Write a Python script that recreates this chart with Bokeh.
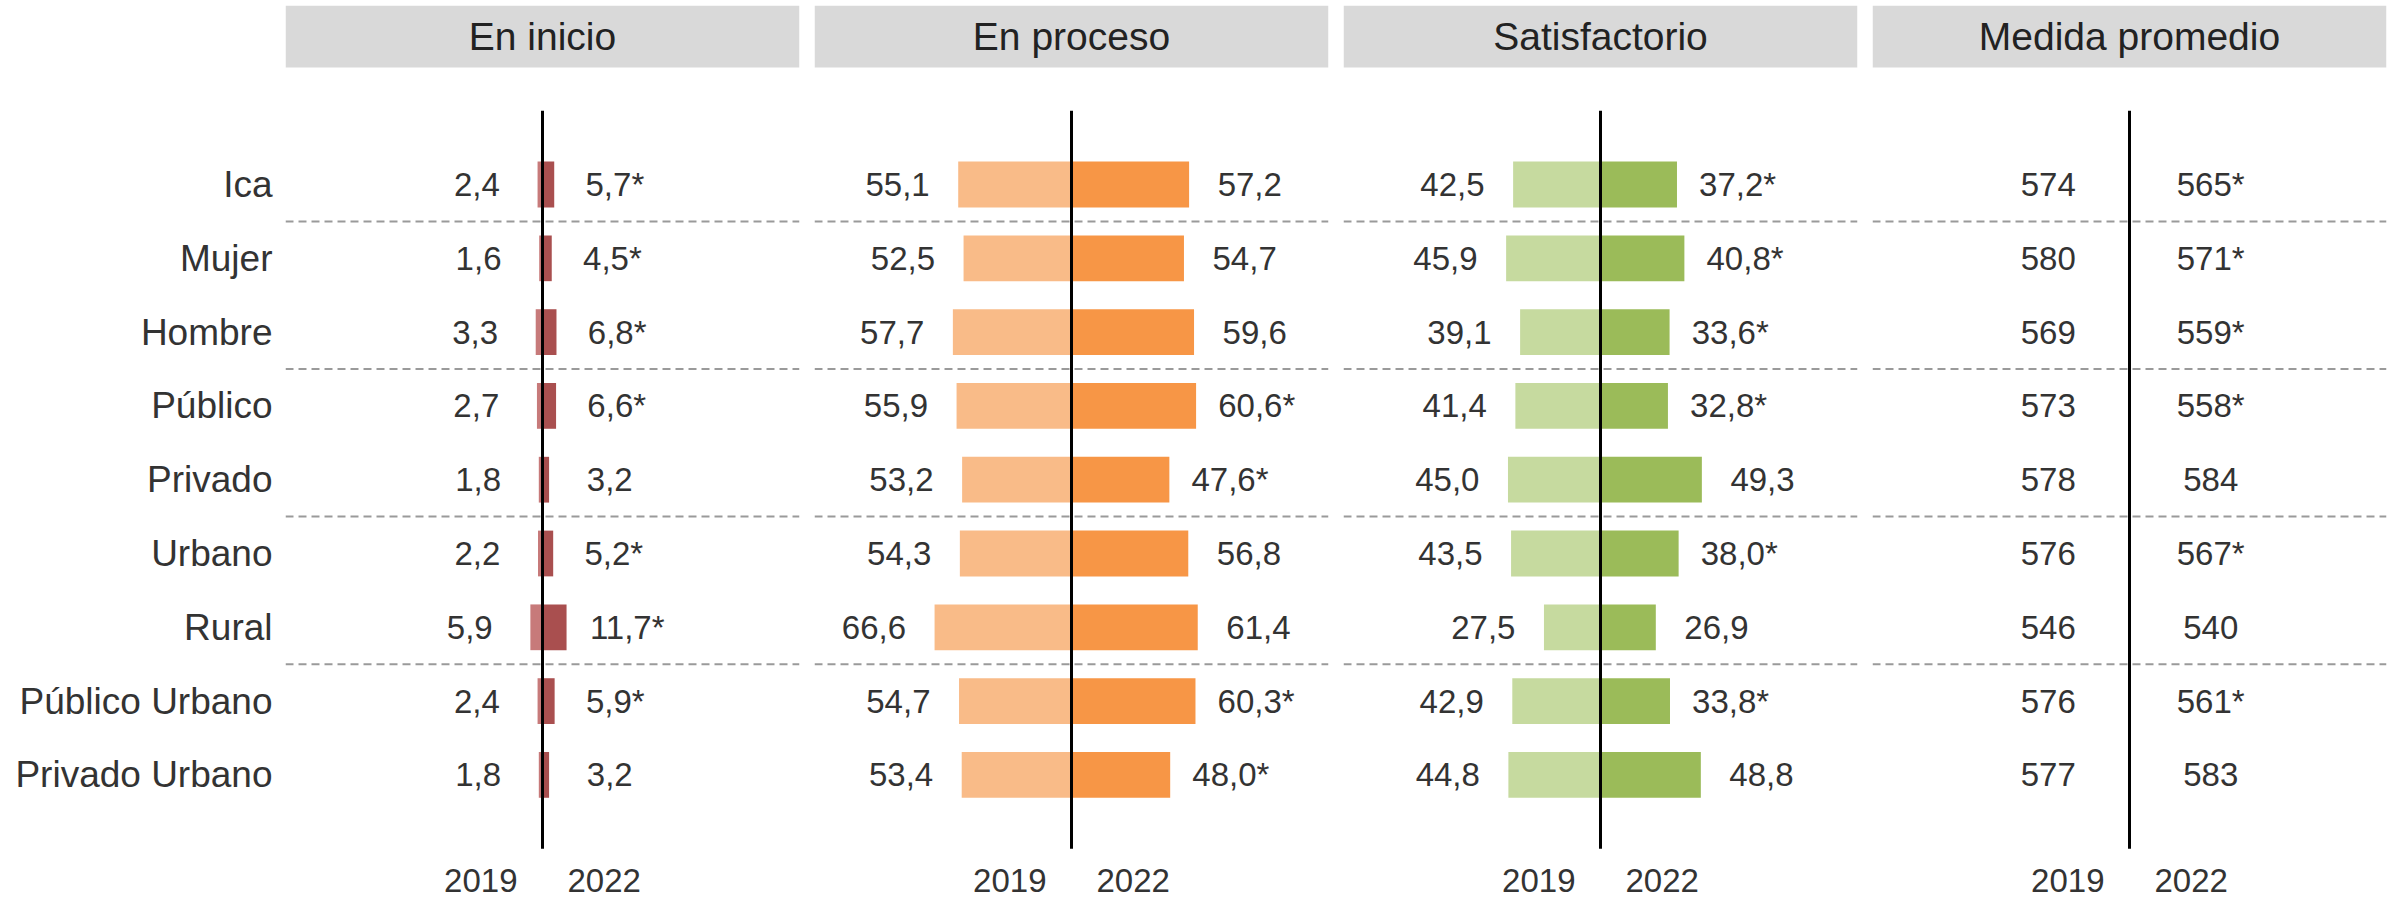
from bokeh.plotting import figure
from bokeh.models import Range1d, FixedTicker, ColumnDataSource
from bokeh.layouts import row
from bokeh.core.properties import value
from bokeh.embed import file_html
from bokeh.resources import INLINE

# ---------------- data ----------------
categories = ["Ica", "Mujer", "Hombre", "Público", "Privado", "Urbano", "Rural",
              "Público Urbano", "Privado Urbano"]
groups = ["Total", "Sexo", "Sexo", "Gestión", "Gestión", "Área", "Área",
          "Gestión-Área", "Gestión-Área"]
years = ["2019", "2022"]

panel_titles = ["En inicio", "En proceso", "Satisfactorio", "Medida promedio"]

inicio_2019 = [2.4, 1.6, 3.3, 2.7, 1.8, 2.2, 5.9, 2.4, 1.8]
inicio_2022 = [5.7, 4.5, 6.8, 6.6, 3.2, 5.2, 11.7, 5.9, 3.2]
inicio_sig = [1, 1, 1, 1, 0, 1, 1, 1, 0]

proceso_2019 = [55.1, 52.5, 57.7, 55.9, 53.2, 54.3, 66.6, 54.7, 53.4]
proceso_2022 = [57.2, 54.7, 59.6, 60.6, 47.6, 56.8, 61.4, 60.3, 48.0]
proceso_sig = [0, 0, 0, 1, 1, 0, 0, 1, 1]

satisf_2019 = [42.5, 45.9, 39.1, 41.4, 45.0, 43.5, 27.5, 42.9, 44.8]
satisf_2022 = [37.2, 40.8, 33.6, 32.8, 49.3, 38.0, 26.9, 33.8, 48.8]
satisf_sig = [1, 1, 1, 1, 0, 1, 0, 1, 0]

medida_2019 = [574, 580, 569, 573, 578, 576, 546, 576, 577]
medida_2022 = [565, 571, 559, 558, 584, 567, 540, 561, 583]
medida_sig = [1, 1, 1, 1, 0, 1, 0, 1, 0]

# ---------------- styling / layout ----------------
FONT = "Liberation Sans"
TXT = "#333333"
HEAD_BG = "#d9d9d9"
N = len(categories)

ROW_PX = 73.8
TOP_PAD = 5
H = 901
FRAME_W = 514
X_HALF = 125.0

first_row_px = 184  # canvas y of first row centre
y_top = (N - 1) + (first_row_px - TOP_PAD) / ROW_PX
y_bottom = (N - 1) - (H - first_row_px) / ROW_PX
head_bottom = (N - 1) + (first_row_px - 67) / ROW_PX
year_y = (N - 1) - (880 - first_row_px) / ROW_PX

ypos = [N - 1 - i for i in range(N)]
sep_y = [ypos[i] - 0.5 for i in range(N - 1) if groups[i] != groups[i + 1]]


def fmt_pct(v, s):
    return f"{v:.1f}".replace(".", ",") + ("*" if s else "")


def fmt_int(v, s):
    return f"{v:d}" + ("*" if s else "")


def make_panel(title, v19, v22, sig, bars, c19, c22, label_off, fmt, first,
               width, border_left, border_right):
    p = figure(width=width, height=H, output_backend="svg", toolbar_location=None,
               x_range=Range1d(-X_HALF, X_HALF), y_range=Range1d(y_bottom, y_top),
               background_fill_color="white", border_fill_color="white")
    p.min_border = 0
    p.min_border_left = border_left
    p.min_border_right = border_right
    p.min_border_top = TOP_PAD
    p.min_border_bottom = 0
    p.outline_line_color = None
    p.xgrid.visible = False
    p.ygrid.visible = False
    p.xaxis.visible = False

    if first:
        ax = p.yaxis[0]
        ax.ticker = FixedTicker(ticks=ypos)
        ax.major_label_overrides = {y: c for y, c in zip(ypos, categories)}
        ax.axis_line_color = None
        ax.major_tick_line_color = None
        ax.minor_tick_line_color = None
        ax.major_tick_out = 0
        ax.major_tick_in = 0
        ax.major_label_standoff = 13
        ax.major_label_text_font = FONT
        ax.major_label_text_font_size = "37px"
        ax.major_label_text_color = TXT
    else:
        p.yaxis.visible = False

    # header strip
    p.quad(left=[-X_HALF], right=[X_HALF], bottom=[head_bottom], top=[y_top],
           fill_color=HEAD_BG, line_color=None)
    p.text(x=[0], y=[(head_bottom + y_top) / 2], text=[title],
           text_font=value(FONT), text_font_size="39px", text_color="#222222",
           text_align="center", text_baseline="middle")

    # separators
    for sy in sep_y:
        p.segment(x0=[-X_HALF], x1=[X_HALF], y0=[sy], y1=[sy],
                  line_color="#9a9a9a", line_width=2, line_dash="8 5")

    src = ColumnDataSource(dict(
        y=ypos,
        v19=v19, v22=v22,
        neg19=[-v for v in v19],
        lab19=[fmt(v, 0) for v in v19],
        lab22=[fmt(v, s) for v, s in zip(v22, sig)],
        x19=[(-v if bars else 0) - label_off for v in v19],
        x22=[(v if bars else 0) + label_off for v in v22],
    ))

    if bars:
        p.hbar(y="y", left="neg19", right=0, height=0.62, source=src,
               fill_color=c19, line_color=None)
        p.hbar(y="y", left=0, right="v22", height=0.62, source=src,
               fill_color=c22, line_color=None)

    # centre line
    p.segment(x0=[0], x1=[0], y0=[-1], y1=[N], line_color="black", line_width=3)

    p.text(x="x19", y="y", text="lab19", source=src, text_font=value(FONT),
           text_font_size="33px", text_color=TXT, text_align="center",
           text_baseline="middle")
    p.text(x="x22", y="y", text="lab22", source=src, text_font=value(FONT),
           text_font_size="33px", text_color=TXT, text_align="center",
           text_baseline="middle")

    # year labels
    p.text(x=[-30, 30], y=[year_y, year_y], text=years, text_font=value(FONT),
           text_font_size="33px", text_color=TXT, text_align="center",
           text_baseline="middle")
    return p


p1 = make_panel(panel_titles[0], inicio_2019, inicio_2022, inicio_sig, True,
                "#c77a7a", "#a94f4f", 29.5, fmt_pct, True, 285 + FRAME_W + 15, 285, 15)
p2 = make_panel(panel_titles[1], proceso_2019, proceso_2022, proceso_sig, True,
                "#f9bb88", "#f79646", 29.5, fmt_pct, False, FRAME_W + 15, 0, 15)
p3 = make_panel(panel_titles[2], satisf_2019, satisf_2022, satisf_sig, True,
                "#c6da9f", "#9bbb59", 29.5, fmt_pct, False, FRAME_W + 15, 0, 15)
p4 = make_panel(panel_titles[3], medida_2019, medida_2022, medida_sig, False,
                None, None, 39.5, fmt_int, False, FRAME_W + 6, 0, 6)

layout = row(p1, p2, p3, p4)
open("out.html", "w").write(file_html(layout, INLINE))
